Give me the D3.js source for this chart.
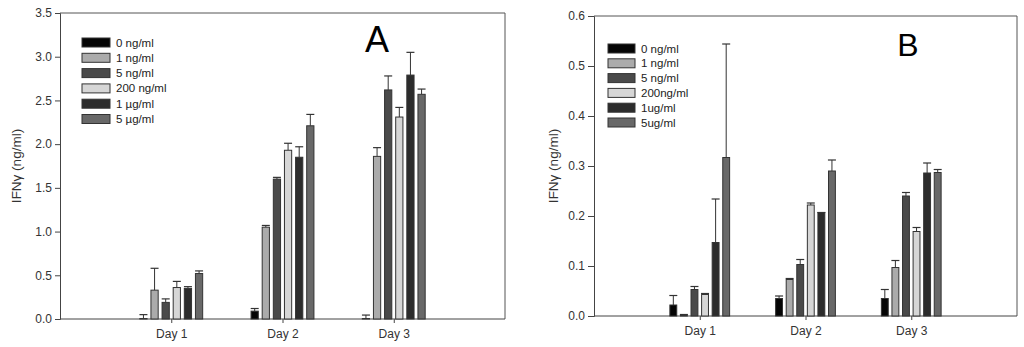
<!DOCTYPE html>
<html>
<head>
<meta charset="utf-8">
<script src="https://cdn.jsdelivr.net/npm/d3@7"></script>
<style>
  body { margin: 0; background: #fff; }
  svg { display: block; font-family: Arial, "Liberation Sans", sans-serif; }
</style>
</head>
<body>
<svg id="chart" width="1024" height="347"></svg>
<script>
// categories
const days = ["Day 1", "Day 2", "Day 3"];
const doseColors = ["#050505", "#ababab", "#4a4a4a", "#d6d6d6", "#2c2c2c", "#686868"];

// panel A (IFNy ng/ml), one row per day, one value per dose
const labelsA = ["0 ng/ml", "1 ng/ml", "5 ng/ml", "200 ng/ml", "1 \u00b5g/ml", "5 \u00b5g/ml"];
const meansA = [
  [0.005, 0.33, 0.19, 0.36, 0.35, 0.52],
  [0.09, 1.05, 1.60, 1.93, 1.85, 2.21],
  [0.005, 1.86, 2.62, 2.31, 2.79, 2.57]
];
const errTopA = [
  [0.05, 0.58, 0.23, 0.43, 0.37, 0.55],
  [0.12, 1.07, 1.62, 2.01, 1.97, 2.34],
  [0.045, 1.96, 2.78, 2.42, 3.05, 2.63]
];
const ticksA = [0, 0.5, 1.0, 1.5, 2.0, 2.5, 3.0, 3.5];

// panel B
const labelsB = ["0 ng/ml", "1 ng/ml", "5 ng/ml", "200ng/ml", "1ug/ml", "5ug/ml"];
const meansB = [
  [0.022, 0.002, 0.053, 0.043, 0.147, 0.317],
  [0.035, 0.073, 0.103, 0.222, 0.207, 0.290],
  [0.035, 0.097, 0.240, 0.169, 0.286, 0.287]
];
const errTopB = [
  [0.041, 0.003, 0.059, 0.045, 0.234, 0.544],
  [0.040, 0.075, 0.113, 0.226, 0.207, 0.312],
  [0.053, 0.111, 0.247, 0.177, 0.306, 0.293]
];
const ticksB = [0, 0.1, 0.2, 0.3, 0.4, 0.5, 0.6];

const svg = d3.select("#chart");

function drawPanel(cfg) {
  const g = svg.append("g");
  const x = d3.scalePoint().domain(days).range([cfg.left, cfg.right]).padding(1);
  const y = d3.scaleLinear().domain([0, cfg.max]).range([cfg.bottom, cfg.top]);
  const step = x.step();
  const barW = step * 0.065;

  // frame (top and right)
  g.append("path")
    .attr("d", `M${cfg.left},${cfg.top}H${cfg.right}V${cfg.bottom}`)
    .attr("fill", "none").attr("stroke", "#555").attr("stroke-width", 1);

  const yAxis = g.append("g")
    .attr("transform", `translate(${cfg.left},0)`)
    .call(d3.axisLeft(y).tickValues(cfg.ticks).tickFormat(d3.format(".1f")).tickSize(cfg.tick).tickPadding(3));
  const xAxis = g.append("g")
    .attr("transform", `translate(0,${cfg.bottom})`)
    .call(d3.axisBottom(x).tickSize(4).tickPadding(6));
  [yAxis, xAxis].forEach(a => {
    a.select(".domain").attr("stroke", "#444");
    a.selectAll(".tick line").attr("stroke", "#444");
    a.selectAll("text").attr("fill", "#333").style("font-size", "12px");
  });
  // x axis runs full width
  xAxis.select(".domain").attr("d", `M${cfg.left},0H${cfg.right}`);

  g.append("text")
    .attr("transform", `translate(${cfg.ylabX},${(cfg.top + cfg.bottom) / 2}) rotate(-90)`)
    .attr("text-anchor", "middle").attr("fill", "#333").style("font-size", "13.5px")
    .text("IFN\u03b3 (ng/ml)");

  days.forEach((day, di) => {
    const cx = x(day);
    cfg.means[di].forEach((v, i) => {
      const bx = cx + (i - 2.5) * step * 0.1;
      // error bar
      const et = cfg.errTop[di][i];
      if (et > v) {
        g.append("line").attr("x1", bx).attr("x2", bx).attr("y1", y(v)).attr("y2", y(et))
          .attr("stroke", "#333").attr("stroke-width", 1);
      }
      g.append("line").attr("x1", bx - 4).attr("x2", bx + 4).attr("y1", y(et)).attr("y2", y(et))
        .attr("stroke", "#333").attr("stroke-width", 1.2);
      g.append("rect")
        .attr("x", bx - barW / 2).attr("width", barW)
        .attr("y", y(v)).attr("height", y(0) - y(v))
        .attr("fill", doseColors[i]).attr("stroke", "#333").attr("stroke-width", 1);
    });
  });

  // legend
  const leg = g.append("g");
  cfg.labels.forEach((lab, i) => {
    const ly = cfg.legY + i * cfg.legStep;
    leg.append("rect")
      .attr("x", cfg.legX).attr("y", ly - 4.5).attr("width", cfg.swW).attr("height", 9)
      .attr("fill", doseColors[i]).attr("stroke", "#333").attr("stroke-width", 1);
    leg.append("text")
      .attr("x", cfg.legX + cfg.swW + 6).attr("y", ly + 4)
      .attr("fill", "#222").style("font-size", "11.5px").text(lab);
  });

  g.append("text")
    .attr("x", cfg.letterX).attr("y", cfg.letterY)
    .attr("text-anchor", "middle").attr("fill", "#000")
    .style("font-size", cfg.letterSize + "px").text(cfg.letter);
}

drawPanel({
  left: 60, right: 505, top: 13, bottom: 319, max: 3.5, ticks: ticksA, tick: 5, ylabX: 21,
  means: meansA, errTop: errTopA, labels: labelsA,
  legX: 82, legY: 42.5, legStep: 15.3, swW: 28,
  letter: "A", letterX: 377, letterY: 52, letterSize: 36
});

drawPanel({
  left: 594, right: 1017, top: 16, bottom: 316, max: 0.6, ticks: ticksB, tick: 6, ylabX: 558,
  means: meansB, errTop: errTopB, labels: labelsB,
  legX: 608, legY: 48.5, legStep: 14.8, swW: 27,
  letter: "B", letterX: 908, letterY: 56, letterSize: 32
});
</script>
</body>
</html>
